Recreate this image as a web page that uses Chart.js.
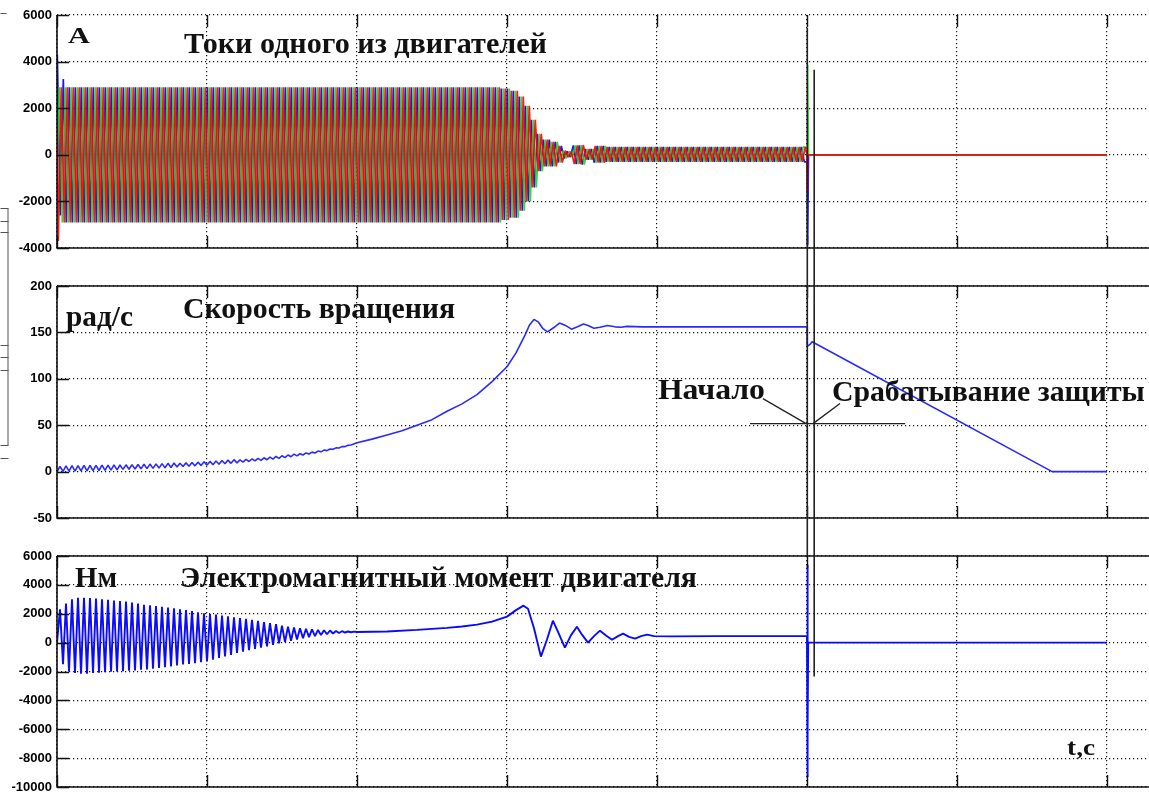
<!DOCTYPE html>
<html>
<head>
<meta charset="utf-8">
<script src="https://cdn.jsdelivr.net/npm/chart.js@4.4.1/dist/chart.umd.min.js"></script>
<style>
html,body{margin:0;padding:0;background:#fff;overflow:hidden;width:1149px;height:808px;}
canvas{position:absolute;left:0;top:0;}
</style>
</head>
<body>
<canvas id="c1" width="1152" height="808"></canvas>
<canvas id="c2" width="1152" height="808"></canvas>
<canvas id="c3" width="1152" height="808"></canvas>
<script>
// ---------- tick labels ----------
const xTicks = [0, 0.5, 1, 1.5, 2, 2.5, 3, 3.5];
const currentTicks = [-4000, -2000, 0, 2000, 4000, 6000];
const speedTicks = [-50, 0, 50, 100, 150, 200];
const torqueTicks = [-10000, -8000, -6000, -4000, -2000, 0, 2000, 4000, 6000];

// ---------- panel 1: phase currents (envelope) ----------
const curEnvT  = [0.00, 1.48, 1.51, 1.54, 1.56, 1.58, 1.60, 1.62, 1.645, 1.67, 1.685, 1.70, 1.72, 1.745, 1.76, 1.79, 1.83];
const curEnvUp = [2900, 2850, 2750, 2500, 2100, 1500, 900, 650, 560, 380, 180, 150, 400, 420, 250, 380, 340];
const curEnvLo = [-2900, -2800, -2700, -2400, -2000, -1400, -700, -500, -500, -330, -150, -100, -400, -420, -210, -340, -300];
const phaseColors = ['rgba(255,0,0,0.9)', 'rgba(30,215,30,0.9)', 'rgba(0,0,235,0.9)'];
const phaseOffset = [0.0043, 0.0077, 0.0010];       // time of first extremum, s
const phaseFirstSign = [-1, 1, 1];
const phaseStartValue = [1100, -1100, 0];
const phaseFirstExtremes = [[-3700], [], [4300, -2600, 3250]];
const halfPeriod = 0.01;                            // 50 Hz
const switchTime = 2.497;
const phaseSpikeT = [[2.5, 2.501, 2.503, 3.5], [2.5, 2.5015, 2.503, 2.505, 3.5], [2.5, 2.502, 2.505, 3.5]];
const phaseSpikeV = [[0, -1600, 0, 0], [300, 3860, 3200, 0, 0], [-300, -3860, 0, 0]];

// ---------- panel 2: rotation speed, rad/s ----------
const speedStep = 0.01;
const speedEarly = [0,5.5,0.3,6.2,0.5,6.4,0.6,6.5,0.7,6.6, 0.8,6.7,1.0,6.8,1.2,6.9,1.4,7.0,1.6,7.2,
  1.8,7.1,2.4,7.3,2.6,7.5,2.8,7.7,3.0,7.9, 3.2,8.1,3.5,8.3,3.8,8.6,4.1,8.9,4.4,9.2,
  4.9,9.1,5.4,9.4,5.8,9.8,6.2,10.2,6.6,10.6, 7.0,11.0,7.4,11.4,7.9,11.9,8.4,12.4,8.9,12.9,
  9.4,12.6,10.3,13.1,10.9,13.7,11.5,14.3,12.1,14.9, 12.8,15.6,13.5,16.3,14.3,17.1,15.1,17.9,16.0,18.8,
  17.0,19.2,17.9,20.1,19.0,21.0,20.1,22.1,21.3,23.2, 22.6,24.4,24.0,25.6,25.4,26.9,26.9,28.3,28.6];
const speedLateT = [1.0,1.05,1.1,1.15,1.2,1.25,1.3,1.35,1.4,1.45, 1.5,1.53,1.56,1.575,1.59,1.605,1.62,1.635,1.655,1.675,
  1.695,1.715,1.735,1.755,1.77,1.79,1.81,1.835,1.86,1.88, 1.9,1.95,2.0,2.5,2.501,2.51,2.517,3.317,3.5];
const speedLateV = [31,35,39.5,44,50,56,65,73,83,97, 113,128,147,158,164,161,154,150.5,155,160,
  157.5,153.5,156,159,157.5,154.5,155.5,157.5,156,155.5, 156.5,156,156,156,135,137,140,0,0];

// ---------- panel 3: electromagnetic torque, N*m ----------
const torqueStep = 0.01;
const torqueEarly = [0,2300,-1500,2700,-2000,3000,-2100,3100,-2150,3100,
  -2150,3080,-2100,3050,-2080,3000,-2050,2960,-2020,2920,
  -2000,2880,-1980,2840,-1950,2780,-1920,2700,-1880,2620,
  -1850,2580,-1800,2540,-1750,2480,-1700,2430,-1650,2380,
  -1580,2300,-1520,2250,-1470,2180,-1420,2100,-1360,2030,
  -1300,1980,-1180,1940,-1060,1880,-950,1830,-850,1760,
  -720,1700,-620,1650,-530,1580,-440,1500,-350,1420,
  -260,1350,-150,1280,-50,1180,40,1110,130,1050,
  220,1000,300,960,380,920,450,880,520,860,
  580,840,630,810,670,790,700,770,720,760,
  740];
const torqueLateT = [1.1,1.2,1.3,1.35,1.4,1.45,1.5,1.53,1.555,1.57, 1.59,1.613,1.633,1.653,1.673,1.693,1.713,1.733,1.75,1.77,
  1.79,1.81,1.83,1.85,1.87,1.887,1.907,1.927,1.947,1.967, 1.99,2.05,2.2,2.5,2.5008,2.5016,2.5024,2.5032,2.504,3.5];
const torqueLateV = [770,880,1020,1120,1250,1450,1800,2250,2560,2350, 1000,-970,200,1520,600,-350,500,1100,550,0,
  450,830,500,200,450,620,400,280,450,550, 450,430,450,450,5400,-9300,4800,-6000,0,0];

// ---------- build series ----------
function envIndex(t){ let i = 0; while (i + 1 < curEnvT.length && curEnvT[i + 1] <= t) i++; return i; }
function buildPhase(p){
  const pts = [{x: 0, y: phaseStartValue[p]}];
  let sign = phaseFirstSign[p];
  for (let k = 0; ; k++){
    const t = phaseOffset[p] + k * halfPeriod;
    if (t >= switchTime) break;
    let v;
    if (k < phaseFirstExtremes[p].length) v = phaseFirstExtremes[p][k];
    else { const i = envIndex(t); v = sign > 0 ? curEnvUp[i] : curEnvLo[i]; }
    pts.push({x: t, y: v});
    sign = -sign;
  }
  phaseSpikeT[p].forEach((t, i) => pts.push({x: t, y: phaseSpikeV[p][i]}));
  return pts;
}
const speedData = speedEarly.map((v, k) => ({x: k * speedStep, y: v}))
  .concat(speedLateT.map((t, i) => ({x: t, y: speedLateV[i]})));
const torqueData = torqueEarly.map((v, k) => ({x: k * torqueStep, y: v}))
  .concat(torqueLateT.map((t, i) => ({x: t, y: torqueLateV[i]})));

// ---------- annotations (data coordinates of each panel) ----------
const SERIF = '"Liberation Serif","Times New Roman",serif';
const textsTop = [
  {text: 'A', t: 0.037, v: 4807, w: 0.073, size: 24},
  {text: 'Токи одного из двигателей', t: 0.423, v: 4378, w: 1.21, size: 30}
];
const textsMid = [
  {text: 'рад/с', t: 0.03, v: 157, w: 0.223, size: 30},
  {text: 'Скорость вращения', t: 0.42, v: 165, w: 0.907, size: 30},
  {text: 'Начало', t: 2.003, v: 78.5, w: 0.357, size: 30},
  {text: 'Срабатывание защиты', t: 2.583, v: 76.5, w: 1.043, size: 30}
];
const textsBot = [
  {text: 'Нм', t: 0.06, v: 3880, w: 0.14, size: 30},
  {text: 'Электромагнитный момент двигателя', t: 0.41, v: 3880, w: 1.723, size: 30},
  {text: 't,c', t: 3.367, v: -7756, w: 0.093, size: 23}
];
const segsMid = [[2.31, 51.7, 2.827, 51.7], [2.353, 78.7, 2.497, 51.7], [2.61, 73.3, 2.52, 51.7]];

// ---------- plugins ----------
const framePlugin = {
  id: 'matlabFrame',
  afterDatasetsDraw(chart, args, opts){
    const {ctx, chartArea: a} = chart; const x = chart.scales.x, y = chart.scales.y;
    ctx.save();
    ctx.strokeStyle = '#111'; ctx.lineWidth = 1.6;
    ctx.beginPath();
    ctx.moveTo(a.left, a.top); ctx.lineTo(a.left, a.bottom); ctx.lineTo(a.right, a.bottom);
    if (opts.topSolid){ ctx.moveTo(a.left, a.top); ctx.lineTo(a.right, a.top); }
    ctx.stroke();
    ctx.lineWidth = 1.4; ctx.beginPath();
    x.ticks.forEach(tk => { const px = Math.round(x.getPixelForValue(tk.value)) + 0.5;
      ctx.moveTo(px, a.bottom); ctx.lineTo(px, a.bottom - 12); ctx.moveTo(px, a.top); ctx.lineTo(px, a.top + 12); });
    y.ticks.forEach(tk => { const py = Math.round(y.getPixelForValue(tk.value)) + 0.5;
      ctx.moveTo(a.left, py); ctx.lineTo(a.left + 12, py); });
    ctx.stroke();
    ctx.restore();
  }
};
function drawTexts(chart, list){
  const ctx = chart.ctx, xs = chart.scales.x, ys = chart.scales.y;
  list.forEach(l => {
    const x0 = xs.getPixelForValue(l.t), y0 = ys.getPixelForValue(l.v);
    const x1 = xs.getPixelForValue(l.t + l.w);
    ctx.save();
    ctx.font = 'bold ' + l.size + 'px ' + SERIF;
    const m = ctx.measureText(l.text).width;
    ctx.translate(x0, y0); ctx.scale((x1 - x0) / m, 1);
    ctx.textAlign = 'left'; ctx.textBaseline = 'alphabetic'; ctx.fillStyle = '#111';
    ctx.fillText(l.text, 0, 0);
    ctx.restore();
  });
}
function textPlugin(list, segs){
  return {
    id: 'panelText',
    afterDraw(chart){
      drawTexts(chart, list);
      if (segs){
        const ctx = chart.ctx, xs = chart.scales.x, ys = chart.scales.y;
        ctx.save(); ctx.strokeStyle = '#222'; ctx.lineWidth = 1.3; ctx.beginPath();
        segs.forEach(s => { ctx.moveTo(xs.getPixelForValue(s[0]), ys.getPixelForValue(s[1]));
          ctx.lineTo(xs.getPixelForValue(s[2]), ys.getPixelForValue(s[3])); });
        ctx.stroke(); ctx.restore();
      }
    }
  };
}
// fragment of a neighbouring window at the left edge of the screenshot
const fragmentPlugin = {
  id: 'fragment',
  afterDraw(chart){
    const ctx = chart.ctx; ctx.save(); ctx.strokeStyle = '#555'; ctx.lineWidth = 1; ctx.beginPath();
    [[0,13,6,13],[0,208,8,208],[0,221,8,221],[0,232,8,232],[7.5,208,7.5,445],[0,345,8,345],[0,357,8,357],[0,370,8,370],[0,445,8,445],[0,458,8,458]]
      .forEach(s => { ctx.moveTo(s[0] + 0.5, s[1] + 0.5); ctx.lineTo(s[2] + 0.5, s[3] + 0.5); });
    ctx.stroke(); ctx.restore();
  }
};

// ---------- common options ----------
function makeOptions(yMin, yMax, yTickVals, padTop, padBottom, showX, topSolid){
  return {
    responsive: false, animation: false, events: [],
    layout: {padding: {top: padTop, bottom: padBottom, left: 0, right: 0}},
    plugins: {legend: {display: false}, tooltip: {enabled: false}, matlabFrame: {topSolid: topSolid}},
    scales: {
      x: {
        type: 'linear', min: 0, max: 3.65,
        afterBuildTicks: s => { s.ticks = xTicks.map(v => ({value: v})); },
        afterFit: s => { s.height = 0; },
        grid: {color: '#1a1a1a', lineWidth: 1.2, drawTicks: false},
        border: {display: false, dash: [1.2, 2.8]},
        ticks: {display: showX, padding: 6, color: '#333', autoSkip: false, maxRotation: 0,
          font: {family: '"Liberation Sans", Arial, sans-serif', size: 15}, callback: v => String(v)}
      },
      y: {
        type: 'linear', min: yMin, max: yMax,
        afterBuildTicks: s => { s.ticks = yTickVals.map(v => ({value: v})); },
        afterFit: s => { s.width = 57; },
        grid: {color: '#1a1a1a', lineWidth: 1.2, drawTicks: false},
        border: {display: false, dash: [1.2, 2.8]},
        ticks: {padding: 5, color: '#000', autoSkip: false,
          font: {family: '"Liberation Sans", Arial, sans-serif', size: 13, weight: 'bold'}, callback: v => String(v)}
      }
    }
  };
}

const lineDs = (data, color, width) => ({data, borderColor: color, borderWidth: width, pointRadius: 0,
  tension: 0, fill: false, borderJoinStyle: 'bevel'});

const chart1 = new Chart(document.getElementById('c1'), {
  type: 'line',
  data: {datasets: [0, 1, 2].map(p => lineDs(buildPhase(p), phaseColors[p], 1.7))},
  options: makeOptions(-4000, 6000, currentTicks, 15, 560, false, false),
  plugins: [framePlugin, textPlugin(textsTop), fragmentPlugin]
});
const chart2 = new Chart(document.getElementById('c2'), {
  type: 'line',
  data: {datasets: [lineDs(speedData, '#2a2aff', 1.6)]},
  options: makeOptions(-50, 200, speedTicks, 286, 290, false, true),
  plugins: [framePlugin, textPlugin(textsMid, segsMid)]
});
// vertical marker lines crossing the panels (time, value in top panel, value in bottom panel)
const markerT = [2.501, 2.524];
const markerTopV = [5450, 3650];
const markerBotV = [6000, -2350];
const markerPlugin = {
  id: 'markers',
  afterDraw(chart){
    const ctx = chart.ctx, xs = chart.scales.x;
    ctx.save(); ctx.strokeStyle = '#222'; ctx.lineWidth = 1.6; ctx.beginPath();
    markerT.forEach((t, i) => {
      const px = xs.getPixelForValue(t);
      ctx.moveTo(px, chart1.scales.y.getPixelForValue(markerTopV[i]));
      ctx.lineTo(px, chart.scales.y.getPixelForValue(markerBotV[i]));
    });
    ctx.stroke(); ctx.restore();
  }
};
const chart3 = new Chart(document.getElementById('c3'), {
  type: 'line',
  data: {datasets: [lineDs(torqueData, '#0a0aff', 1.9)]},
  options: makeOptions(-10000, 6000, torqueTicks, 556, 21, true, true),
  plugins: [framePlugin, textPlugin(textsBot), markerPlugin]
});
</script>
</body>
</html>
